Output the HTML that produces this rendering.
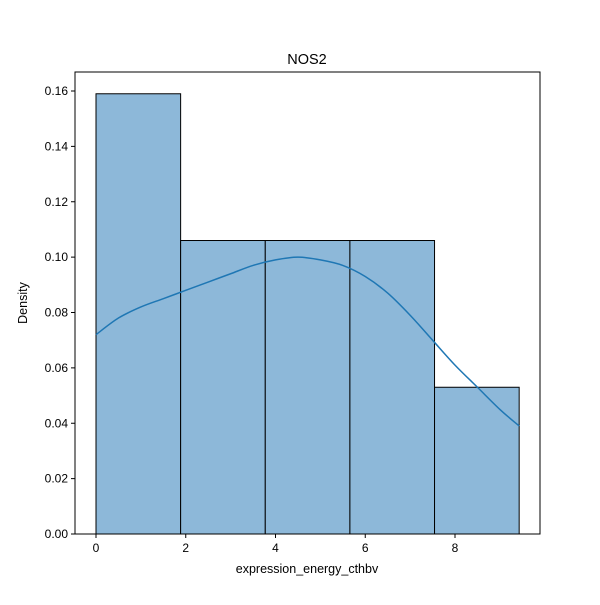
<!DOCTYPE html>
<html><head><meta charset="utf-8"><style>body{margin:0;background:#fff}svg{font-family:"Liberation Sans","DejaVu Sans",sans-serif}</style></head>
<body>
<svg id="c" width="600" height="600"></svg>
<script>
const binEdges=[0,1.886,3.772,5.658,7.544,9.43];
const densities=[0.159,0.106,0.106,0.106,0.053];
const kdeX=[0,0.5,1,1.5,2,2.5,3,3.5,4,4.5,5,5.5,6,6.5,7,7.5,8,8.5,9,9.43];
const kdeY=[0.072,0.078,0.082,0.085,0.088,0.091,0.094,0.097,0.099,0.100,0.099,0.097,0.093,0.087,0.079,0.070,0.061,0.053,0.045,0.039];
const xTicks=[0,2,4,6,8];
const yTicks=[0,0.02,0.04,0.06,0.08,0.10,0.12,0.14,0.16];
const L=75,R=540,T=72,B=534;
const xs=v=>96+v*44.875, ys=v=>534-v*2768.75;
const svg=document.getElementById('c');const NS='http://www.w3.org/2000/svg';
function mk(t,a,p){const e=document.createElementNS(NS,t);for(const k in a)e.setAttribute(k,a[k]);(p||svg).appendChild(e);return e;}
densities.forEach((d,i)=>{const e=mk('rect',{x:xs(binEdges[i]),y:ys(d),width:xs(binEdges[i+1])-xs(binEdges[i]),height:B-ys(d),fill:'#8db8d9',stroke:'#000','stroke-width':1});

});
const pts=kdeX.map((x,i)=>[xs(x),ys(kdeY[i])]);
let d='M'+pts[0].join(',');
for(let i=0;i<pts.length-1;i++){const p0=pts[Math.max(0,i-1)],p1=pts[i],p2=pts[i+1],p3=pts[Math.min(pts.length-1,i+2)];
d+=`C${p1[0]+(p2[0]-p0[0])/6},${p1[1]+(p2[1]-p0[1])/6} ${p2[0]-(p3[0]-p1[0])/6},${p2[1]-(p3[1]-p1[1])/6} ${p2[0]},${p2[1]}`;}
const k=mk('path',{d,fill:'none',stroke:'#1f77b4','stroke-width':1.5});


const f=mk('rect',{x:L,y:T,width:R-L,height:B-T,fill:'none',stroke:'#000','stroke-width':1});


xTicks.forEach(v=>{mk('line',{x1:xs(v),x2:xs(v),y1:B,y2:B+4,stroke:'#000'});
const t=mk('text',{x:xs(v),y:B+18,'text-anchor':'middle','font-size':12});t.textContent=v;

});
yTicks.forEach(v=>{mk('line',{x1:L-4,x2:L,y1:ys(v),y2:ys(v),stroke:'#000'});
const t=mk('text',{x:L-7,y:ys(v)+4,'text-anchor':'end','font-size':12});t.textContent=v.toFixed(2);

});
</script>
<svg width="600" height="600" style="position:absolute;left:0;top:0">
<text x="307" y="64" text-anchor="middle" font-size="14.5">NOS2</text>
<text x="307" y="573" text-anchor="middle" font-size="12.5">expression_energy_cthbv</text>
<text transform="translate(27,303) rotate(-90)" text-anchor="middle" font-size="12.5">Density</text>
</svg>
</body></html>
